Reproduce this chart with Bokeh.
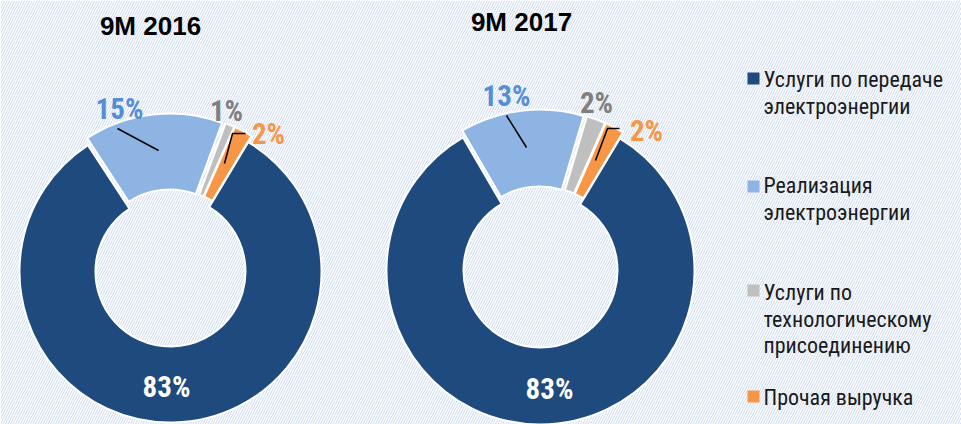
import math
from bokeh.plotting import figure
from bokeh.models import Range1d
from bokeh.core.properties import value
from bokeh.embed import file_html
from bokeh.resources import INLINE

# ---- data ----
years = ["9M 2016", "9M 2017"]
categories = ["Услуги по передаче\nэлектроэнергии",
              "Реализация\nэлектроэнергии",
              "Услуги по\nтехнологическому\nприсоединению",
              "Прочая выручка"]
shares_2016 = [83, 15, 1, 2]
shares_2017 = [83, 13, 2, 2]
colors = ["#1F4A7E", "#8EB4E3", "#BFBFBF", "#F79646"]
label_colors = ["#FFFFFF", "#558ED5", "#7F7F7F", "#F79646"]

# ---- layout ----
W, H = 961, 424
LABEL_FONT = "Roboto Condensed"
LEGEND_FONT = "Roboto Condensed"
SANS = "Liberation Sans"


def X(sx):
    return sx


def Y(sy):
    return H - sy


p = figure(width=W, height=H, x_range=Range1d(0, W), y_range=Range1d(0, H),
           output_backend="svg", toolbar_location=None, min_border=0,
           x_axis_location=None, y_axis_location=None)
p.grid.visible = False
p.outline_line_color = None
p.background_fill_color = "white"
p.border_fill_color = "white"

# hatched background
p.quad(left=0, right=W, bottom=0, top=H, fill_color="white", line_color=None,
       hatch_pattern="/", hatch_color="#C9D8EF", hatch_scale=5, hatch_weight=1)

donuts = [
    dict(vals=shares_2016, cx=170, cy=271, R=151, r=75, title_pos=(150, 25),
         label_off=[(-4, 115), (-51, -163), (56, -161), (98, -138)],
         leaders=[[(117, 128), (158, 150)], [(224, 163), (232, 133), (245, 133)]]),
    dict(vals=shares_2017, cx=540, cy=270, R=154, r=77, title_pos=(521, 21),
         label_off=[(9, 118), (-34, -175), (56, -168), (106, -140)],
         leaders=[[(506, 115), (526, 147)], [(595, 160), (607, 128), (619, 128)]]),
]

START = 31.0  # degrees clockwise from 12 o'clock where first slice starts
EXPLODE = 7

for year, d in zip(years, donuts):
    total = float(sum(d["vals"]))
    cum = START
    for i, v in enumerate(d["vals"]):
        span = v / total * 360.0
        t1, t2 = cum, cum + span
        mid = math.radians((t1 + t2) / 2)
        e = 0 if i == 0 else EXPLODE
        ox, oy = e * math.sin(mid), e * math.cos(mid)
        p.annular_wedge(x=X(d["cx"]) + ox, y=Y(d["cy"]) + oy,
                        inner_radius=d["r"], outer_radius=d["R"],
                        start_angle=math.radians(90 - t2), end_angle=math.radians(90 - t1),
                        fill_color=colors[i], line_color="white", line_width=2)
        cum = t2
    # leader lines
    for ln in d["leaders"]:
        p.line(x=[X(a) for a, b in ln], y=[Y(b) for a, b in ln],
               line_color="black", line_width=1.5)
    # labels
    for i, v in enumerate(d["vals"]):
        dx, dy = d["label_off"][i]
        p.text(x=[X(d["cx"] + dx)], y=[Y(d["cy"] + dy)], text=[f"{v}%"],
               text_color=label_colors[i], text_font=value(LABEL_FONT),
               text_font_style="bold", text_font_size="29px",
               text_align="center", text_baseline="middle")
    # title
    tx, ty = d["title_pos"]
    p.text(x=[X(tx)], y=[Y(ty)], text=[year], text_color="black",
           text_font=value(SANS), text_font_style="bold", text_font_size="26px",
           text_align="center", text_baseline="middle")

# ---- legend ----
sq_y = [78, 186, 290, 396]
first_mid = [79, 185, 292, 397]
line_step = 26.5
for i, cat in enumerate(categories):
    p.rect(x=[X(753)], y=[Y(sq_y[i])], width=12, height=12,
           fill_color=colors[i], line_color=None)
    for j, ln in enumerate(cat.split("\n")):
        p.text(x=[X(763)], y=[Y(first_mid[i] + j * line_step)], text=[ln],
               text_color="#1A1A1A", text_font=value(LEGEND_FONT),
               text_font_size="22px", text_align="left",
               text_baseline="middle")

open("out.html", "w").write(file_html(p, INLINE))
